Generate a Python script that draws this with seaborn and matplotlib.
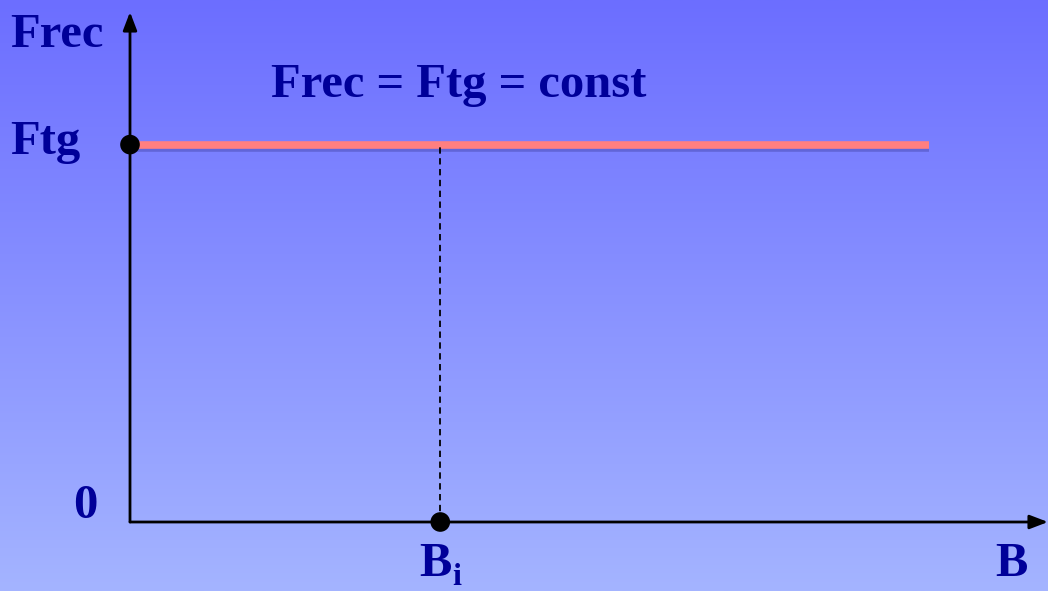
import numpy as np
import pandas as pd
import matplotlib
matplotlib.use("Agg")
import matplotlib.pyplot as plt
import matplotlib.patheffects as pe
import seaborn as sns

# ---- data ----
B_values = [0.0, 8.7]          # extent of the constant force line
Ftg_level = 7.4                # Frec = Ftg = const
Bi_value = 3.38                # marked B_i position
x_limits = [0.0, 10.0]
y_limits = [0.0, 10.0]
title_text = "Frec = Ftg = const"
y_label = "Frec"
x_label = "B"
tick_Ftg = "Ftg"
tick_zero = "0"
Bi_main = "B"
Bi_sub = "i"

navy = "#000099"
sns.set_style("white")
plt.rcParams['font.family'] = ['Liberation Serif', 'DejaVu Serif']

fig = plt.figure(figsize=(10.48, 5.91), dpi=100)

# gradient background
bg = fig.add_axes([0, 0, 1, 1])
top = np.array([108, 110, 255]) / 255
bot = np.array([164, 180, 255]) / 255
t = np.linspace(0, 1, 256)[:, None]
grad = top[None, :] * (1 - t) + bot[None, :] * t
bg.imshow(grad[:, None, :], aspect='auto', extent=[0, 1, 0, 1])
bg.set_axis_off()

ax = fig.add_axes([130 / 1048, (591 - 522) / 591, (1048 - 130) / 1048, (522 - 12) / 591])
ax.patch.set_alpha(0)
ax.set_xlim(*x_limits)
ax.set_ylim(*y_limits)
for s in ax.spines.values():
    s.set_visible(False)
ax.set_xticks([])
ax.set_yticks([])

# axes arrows
arrow_kw = dict(arrowstyle='-|>,head_length=1.1,head_width=0.42', color='black', lw=2,
                shrinkA=0, shrinkB=0)
ax.annotate('', xy=(1, 0), xytext=(0, 0), xycoords='axes fraction', arrowprops=arrow_kw,
            annotation_clip=False)
ax.annotate('', xy=(0, 1), xytext=(0, 0), xycoords='axes fraction', arrowprops=arrow_kw,
            annotation_clip=False)

# constant line
df = pd.DataFrame({"B": B_values, "F": [Ftg_level] * len(B_values)})
sns.lineplot(data=df, x="B", y="F", ax=ax, color="#ff7f80", lw=5.5, solid_capstyle='butt',
             path_effects=[pe.SimpleLineShadow(offset=(0, -2.5), shadow_color='#2a2a80', alpha=0.3),
                           pe.Normal()])

# dashed drop line
ax.plot([Bi_value, Bi_value], [0, Ftg_level], color='black', lw=1.3, ls=(0, (3.5, 2.5)))

# points
pts = pd.DataFrame({"B": [0.0, Bi_value], "F": [Ftg_level, 0.0]})
sns.scatterplot(data=pts, x="B", y="F", ax=ax, color='black', s=200, edgecolor='none',
                zorder=5, clip_on=False)
ax.set_xlabel('')
ax.set_ylabel('')

fs = 35
tkw = dict(color=navy, fontsize=fs, fontweight='bold', clip_on=False, va='baseline')
ax.text(-1.30, 9.31, y_label, ha='left', **tkw)
ax.text(-1.30, 7.22, tick_Ftg, ha='left', **tkw)
ax.text(-0.49, 0.08, tick_zero, ha='center', **tkw)
ax.text(1.54, 8.33, title_text, ha='left', **tkw)
ax.text(Bi_value - 0.05, -1.06, Bi_main, ha='center', **tkw)
ax.text(Bi_value + 0.13, -1.24, Bi_sub, ha='left', color=navy, fontsize=23,
        fontweight='bold', clip_on=False, va='baseline')
ax.text(9.60, -1.06, x_label, ha='center', **tkw)

fig.savefig("out.png", dpi=100)
